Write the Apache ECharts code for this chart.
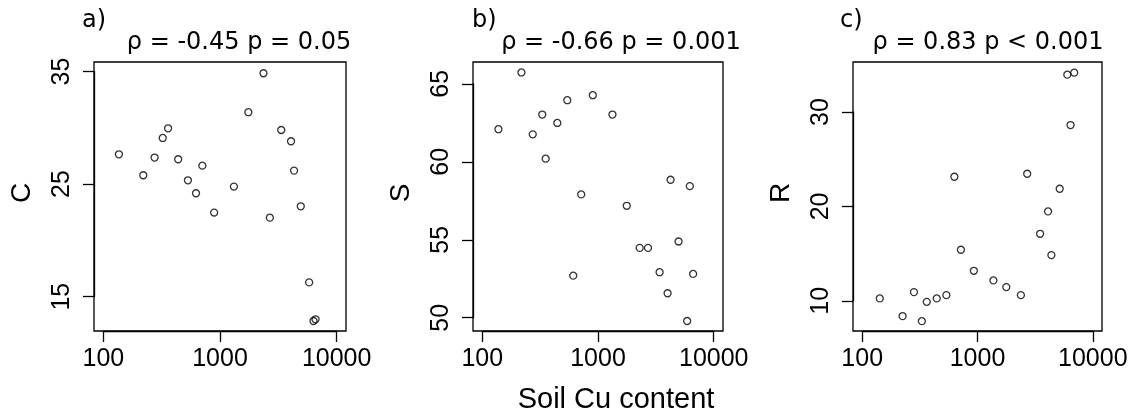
<!DOCTYPE html>
<html>
<head>
<meta charset="utf-8">
<script src="https://cdn.jsdelivr.net/npm/echarts@6/dist/echarts.min.js"></script>
<style>
html,body{margin:0;padding:0;background:#fff;}
#chart{width:1139px;height:416px;}
</style>
</head>
<body>
<div id="chart"></div>
<script>
// Soil Cu content (x) as read in each panel
const cuA = [136, 220, 275, 323, 359, 438, 531, 623, 706, 891, 1316, 1750, 2358, 2675, 3350, 4063, 4312, 4924, 5808, 6329, 6590];
const cuB = [138, 218, 273, 330, 353, 445, 543, 611, 716, 902, 1333, 1772, 2291, 2704, 3405, 3993, 4236, 4966, 5894, 6215, 6637];
const cuC = [142, 224, 281, 329, 363, 443, 537, 630, 718, 930, 1374, 1778, 2378, 2698, 3493, 4093, 4374, 5164, 6012, 6417, 6902];
// Response values
const valC = [27.65, 25.79, 27.36, 29.10, 29.96, 27.21, 25.34, 24.19, 26.64, 22.47, 24.78, 31.39, 34.85, 22.02, 29.81, 28.81, 26.20, 23.03, 16.27, 12.84, 12.99];
const valS = [62.09, 65.73, 61.76, 63.03, 60.20, 62.49, 63.95, 52.70, 57.91, 64.27, 63.03, 57.18, 54.48, 54.48, 52.92, 51.57, 58.85, 54.89, 49.79, 58.44, 52.81];
const valR = [10.25, 8.37, 10.92, 7.84, 9.89, 10.25, 10.60, 23.14, 15.41, 13.18, 12.16, 11.45, 10.60, 23.46, 17.10, 19.47, 14.84, 21.87, 33.96, 28.62, 34.17];
// Tick labels
const xTicks = [100, 1000, 10000];
const yTicksC = [15, 25, 35];
const yTicksS = [50, 55, 60, 65];
const yTicksR = [10, 20, 30];
// Texts
const panelLetters = ['a)', 'b)', 'c)'];
const panelTitles = ['ρ = -0.45 p = 0.05', 'ρ = -0.66 p = 0.001', 'ρ = 0.83 p < 0.001'];
const yNames = ['C', 'S', 'R'];
const xName = 'Soil Cu content';

// ---- layout ----
const LOGMIN = 1.92, LOGMAX = 4.08;
const boxes = [
  {left: 94, top: 62, width: 252, height: 269, ymin: 11.95, ymax: 35.85, titleX: 239, letterX: 82},
  {left: 473, top: 62, width: 250, height: 269, ymin: 49.15, ymax: 66.4, titleX: 621, letterX: 472},
  {left: 853, top: 62, width: 249, height: 269, ymin: 6.8, ymax: 35.3, titleX: 988, letterX: 840}
];
const xs = [cuA, cuB, cuC];
const ys = [valC, valS, valR];
const yt = [yTicksC, yTicksS, yTicksR];

const grid = [], xAxis = [], yAxis = [], series = [], graphic = [];
const tickFont = {fontFamily: 'Liberation Sans', fontSize: 25, color: '#000'};
const lineSt = {color: '#000', width: 1.3};

boxes.forEach((b, i) => {
  // main plotting grid (box)
  grid.push({left: b.left, top: b.top, width: b.width, height: b.height,
    show: true, borderColor: '#000', borderWidth: 1.3, backgroundColor: 'transparent'});
  const gi = grid.length - 1;
  xAxis.push({type: 'log', logBase: 10, gridIndex: gi, min: Math.pow(10, LOGMIN), max: Math.pow(10, LOGMAX), show: false});
  yAxis.push({type: 'value', gridIndex: gi, min: b.ymin, max: b.ymax, show: false});
  const pts = xs[i].map((x, k) => [x, ys[i][k]]);
  series.push({type: 'scatter', xAxisIndex: xAxis.length - 1, yAxisIndex: yAxis.length - 1,
    data: pts, symbol: 'circle', symbolSize: 7,
    itemStyle: {color: 'rgba(0,0,0,0)', borderColor: '#000', borderWidth: 1.3},
    silent: true, animation: false});

  // axis-only grid spanning the tick range
  const px = v => b.left + (Math.log10(v) - LOGMIN) / (LOGMAX - LOGMIN) * b.width;
  const ticks = yt[i];
  const tmin = ticks[0], tmax = ticks[ticks.length - 1];
  const py = v => b.top + (b.ymax - v) / (b.ymax - b.ymin) * b.height;
  const aLeft = px(xTicks[0]), aRight = px(xTicks[xTicks.length - 1]);
  const aTop = py(tmax), aBottom = py(tmin);
  grid.push({left: aLeft, top: aTop, width: aRight - aLeft, height: aBottom - aTop, show: false});
  const ai = grid.length - 1;
  xAxis.push({type: 'log', logBase: 10, gridIndex: ai, min: xTicks[0], max: xTicks[xTicks.length - 1],
    position: 'bottom', offset: (b.top + b.height) - aBottom,
    axisLine: {show: true, onZero: false, lineStyle: lineSt},
    axisTick: {show: true, length: 11, lineStyle: lineSt},
    splitLine: {show: false},
    axisLabel: Object.assign({margin: 16, formatter: v => String(Math.round(v))}, tickFont)});
  yAxis.push({type: 'value', gridIndex: ai, min: tmin, max: tmax, interval: ticks[1] - ticks[0],
    position: 'left', offset: aLeft - b.left,
    axisLine: {show: true, onZero: false, lineStyle: lineSt},
    axisTick: {show: true, length: 11, lineStyle: lineSt},
    splitLine: {show: false},
    axisLabel: Object.assign({margin: 19, rotate: 90}, tickFont)});

  // texts
  graphic.push({type: 'text', x: b.letterX, y: 21, style: {text: panelLetters[i],
    font: '24px "DejaVu Sans"', fill: '#000', textAlign: 'left', textVerticalAlign: 'middle'}});
  graphic.push({type: 'text', x: b.titleX, y: 43, style: {text: panelTitles[i],
    font: '24px "DejaVu Sans"', fill: '#000', textAlign: 'center', textVerticalAlign: 'middle'}});
  graphic.push({type: 'text', x: b.left - 72, y: 193, rotation: Math.PI / 2, style: {text: yNames[i],
    font: '28px "Liberation Sans"', fill: '#000', textAlign: 'center', textVerticalAlign: 'middle'}});
});
graphic.push({type: 'text', x: 616, y: 400, style: {text: xName,
  font: '29px "Liberation Sans"', fill: '#000', textAlign: 'center', textVerticalAlign: 'middle'}});

const chart = echarts.init(document.getElementById('chart'), null, {renderer: 'canvas'});
chart.setOption({animation: false, backgroundColor: '#fff', grid, xAxis, yAxis, series, graphic});
</script>
</body>
</html>
